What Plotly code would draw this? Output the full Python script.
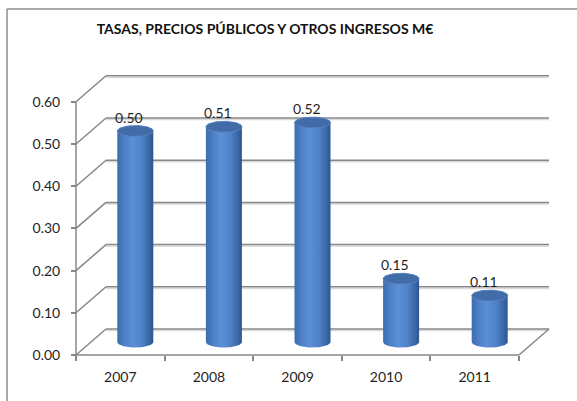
import numpy as np
import plotly.graph_objects as go

# ---------------- data ----------------
years = ["2007", "2008", "2009", "2010", "2011"]
values = [0.50, 0.51, 0.52, 0.15, 0.11]
value_labels = ["0.50", "0.51", "0.52", "0.15", "0.11"]
y_ticks = [0.0, 0.1, 0.2, 0.3, 0.4, 0.5, 0.6]
y_tick_labels = ["0.00", "0.10", "0.20", "0.30", "0.40", "0.50", "0.60"]
title = "TASAS, PRECIOS PÚBLICOS Y OTROS INGRESOS M€"

# ---------------- layout geometry (pixels) ----------------
W, H = 577, 401
PX_CAT = 88.6          # pixels per category
PX_UNIT = 422.0        # pixels per 1.0 of value
FRONT_LEFT_PX = 76     # x pixel of front axis (category -0.5)
ZERO_PX = 355          # y pixel of value 0 (front)
PL, PR, PT, PB = 66, 566, 50, 360   # plot area in pixels

DX = 30 / PX_CAT       # depth offset in category units
DY = 26 / PX_UNIT      # depth offset in value units

x0 = -0.5 - (FRONT_LEFT_PX - PL) / PX_CAT
x1 = -0.5 + (PR - FRONT_LEFT_PX) / PX_CAT
y0 = -(PB - ZERO_PX) / PX_UNIT
y1 = (ZERO_PX - PT) / PX_UNIT

n = len(years)
xl, xr = -0.5, n - 0.5
vmax = y_ticks[-1]

GRID = "#878787"
SHADOW = "#dadada"
TEXT = "#1f1f1f"
FONT = "Lato"

fig = go.Figure()

def seg(xs, ys, color=GRID, width=1.5):
    fig.add_trace(go.Scatter(x=xs, y=ys, mode="lines",
                             line=dict(color=color, width=width),
                             hoverinfo="skip", showlegend=False))

sh = 1.6 / PX_UNIT
for v in y_ticks:
    seg([xl + DX, xr + DX], [v + DY - sh, v + DY - sh], SHADOW, 1.5)
for v in y_ticks:
    seg([xl + DX, xr + DX], [v + DY, v + DY])
    seg([xl, xl + DX], [v, v + DY])
seg([xl, xl], [0, vmax])
seg([xl, xr], [0, 0])
seg([xr, xr + DX], [0, DY])

# ---------------- cylinders ----------------
RX = 18 / PX_CAT
RY = 5.5 / PX_UNIT
t = np.linspace(0, np.pi, 40)
side_scale = [[0.0, "#3d6cb0"], [0.2, "#4d80c6"], [0.42, "#5b8fd6"],
              [0.68, "#4f82c7"], [0.88, "#3a68a8"], [1.0, "#2e5690"]]
for i, v in enumerate(values):
    cx = i + DX / 2
    yb = DY / 2
    yt = v + DY / 2
    bx = cx - RX * np.cos(t)
    by = yb - RY * np.sin(t)
    tx = cx + RX * np.cos(t)
    ty = yt + RY * np.sin(t)
    fig.add_trace(go.Scatter(
        x=np.concatenate([bx, tx, bx[:1]]), y=np.concatenate([by, ty, by[:1]]),
        mode="lines", fill="toself", line=dict(width=0, color="#3d6cb0"),
        fillgradient=dict(type="horizontal", colorscale=side_scale),
        hoverinfo="skip", showlegend=False))
    tt = np.linspace(0, 2 * np.pi, 80)
    fig.add_trace(go.Scatter(
        x=cx + RX * np.cos(tt), y=yt + RY * np.sin(tt),
        mode="lines", fill="toself", line=dict(width=0.8, color="#5b87c4"),
        fillcolor="#416ca8", hoverinfo="skip", showlegend=False))
    fig.add_annotation(x=cx, y=yt + RY, text=value_labels[i], showarrow=False,
                       xanchor="center", yanchor="bottom", xshift=-6, yshift=-2,
                       font=dict(family=FONT, size=14, color=TEXT))

# ---------------- frame ----------------
pw, ph = PR - PL, PB - PT
def px_x(p):
    return (p - PL) / pw
def px_y(p):
    return (PB - p) / ph
fig.add_shape(type="line", xref="paper", yref="paper",
              x0=px_x(7), x1=px_x(7), y0=px_y(9), y1=px_y(H + 2),
              line=dict(color="#8c8c8c", width=1.5))
fig.add_shape(type="line", xref="paper", yref="paper",
              x0=px_x(7), x1=px_x(W + 2), y0=px_y(9), y1=px_y(9),
              line=dict(color="#8c8c8c", width=1.5))

fig.update_layout(
    width=W, height=H,
    margin=dict(l=PL, r=W - PR, t=PT, b=H - PB, pad=0),
    paper_bgcolor="white", plot_bgcolor="white",
    title=dict(text=title, x=265 / W, xanchor="center", y=1 - 29 / H, yanchor="middle",
               font=dict(family=FONT, size=14, color="#111111", weight="bold")),
    showlegend=False,
    xaxis=dict(range=[x0, x1], showgrid=False, zeroline=False, showline=False,
               tickmode="array", tickvals=list(range(n)), ticktext=years,
               ticks="", anchor="free", position=(PB - ZERO_PX) / ph,
               ticklabelstandoff=12,
               minor=dict(tickmode="array", tickvals=[k - 0.5 for k in range(n + 1)],
                          ticks="outside", ticklen=5, tickcolor=GRID, tickwidth=1.5),
               tickfont=dict(family=FONT, size=14, color=TEXT), fixedrange=True),
    yaxis=dict(range=[y0, y1], showgrid=False, zeroline=False, showline=False,
               tickmode="array", tickvals=y_ticks, ticktext=y_tick_labels,
               ticks="outside", ticklen=5, tickcolor=GRID, tickwidth=1.5,
               anchor="free", position=(FRONT_LEFT_PX - PL) / pw,
               ticklabelstandoff=8,
               tickfont=dict(family=FONT, size=14, color=TEXT), fixedrange=True),
)

fig.write_html("out.html", config={"displayModeBar": False},
               post_script="document.body.style.margin='0';")
